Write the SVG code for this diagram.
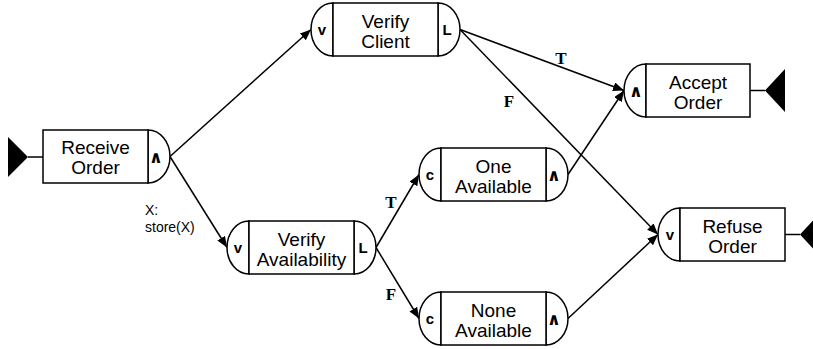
<svg xmlns="http://www.w3.org/2000/svg" width="813" height="349" viewBox="0 0 813 349">
<style>
.box{fill:#fff;stroke:#000;stroke-width:1.5}
.cap{fill:#fff;stroke:#000;stroke-width:1.5}
.lbl{font-family:"Liberation Sans",Arial,sans-serif;font-size:19px;fill:#000;text-anchor:middle}
.op{font-family:"Liberation Sans",Arial,sans-serif;font-size:15px;font-weight:bold;fill:#000;text-anchor:middle}
.and{font-family:"DejaVu Sans","Liberation Sans",sans-serif;font-size:17px;font-weight:bold;fill:#000;text-anchor:middle}
.tf{font-family:"Liberation Serif","Times New Roman",serif;font-size:17px;font-weight:bold;fill:#000;text-anchor:middle}
.note{font-family:"Liberation Sans",Arial,sans-serif;font-size:14px;fill:#000}
.edge{stroke:#000;stroke-width:1.5;fill:none;marker-end:url(#arr)}
.term{stroke:#000;stroke-width:1.5;fill:none}
</style>
<defs>
<marker id="arr" markerUnits="userSpaceOnUse" markerWidth="12" markerHeight="10" refX="11" refY="4.5" orient="auto">
<path d="M0,0 L11,4.5 L0,9 z" fill="#000"/>
</marker>
<path id="lcap" class="cap" d="M0,0 A22,26.5 0 0 0 0,53 Z"/>
<path id="rcap" class="cap" d="M105,0 A22,26.5 0 0 1 105,53 Z"/>
</defs>

<g id="connectors">
<line class="edge" x1="170" y1="156.5" x2="311" y2="29.5"/>
<line class="edge" x1="170" y1="156.5" x2="227" y2="247.5"/>
<line class="edge" x1="460" y1="29.5" x2="624" y2="90.5"/>
<line class="edge" x1="460" y1="29.5" x2="658" y2="234.5"/>
<line class="edge" x1="376" y1="247.5" x2="419" y2="174.5"/>
<line class="edge" x1="376" y1="247.5" x2="419" y2="318.5"/>
<line class="edge" x1="568" y1="174.5" x2="624" y2="90.5"/>
<line class="edge" x1="568" y1="318.5" x2="658" y2="234.5"/>
<text class="note" x="145" y="215">X:</text>
<text class="note" x="145" y="232">store(X)</text>
<text class="tf" x="561" y="64">T</text>
<text class="tf" x="509" y="107">F</text>
<text class="tf" x="391" y="208">T</text>
<text class="tf" x="391" y="300">F</text>
</g>

<g id="receive-order" transform="translate(43,130)">
<polygon points="-35,7 -15,27 -35,47" fill="#000"/>
<line class="term" x1="-15" y1="27" x2="0" y2="27"/>
<use href="#rcap"/>
<rect class="box" x="0" y="0" width="105" height="53"/>
<text class="lbl" x="52.5" y="24">Receive</text>
<text class="lbl" x="52.5" y="44">Order</text>
<text class="and" x="113" y="33">∧</text>
</g>

<g id="verify-client" transform="translate(333,3)">
<use href="#lcap"/>
<use href="#rcap"/>
<rect class="box" x="0" y="0" width="105" height="53"/>
<text class="lbl" x="52.5" y="25">Verify</text>
<text class="lbl" x="52.5" y="45">Client</text>
<text class="op" x="-11" y="32">v</text>
<text class="op" x="114" y="32">L</text>
</g>

<g id="accept-order" transform="translate(646,64)">
<use href="#lcap"/>
<rect class="box" x="0" y="0" width="104" height="53"/>
<line class="term" x1="104" y1="26.5" x2="119" y2="26.5"/>
<polygon points="119,26.5 139,5 139,48" fill="#000"/>
<text class="lbl" x="52" y="25">Accept</text>
<text class="lbl" x="52" y="45">Order</text>
<text class="and" x="-10" y="33">∧</text>
</g>

<g id="refuse-order" transform="translate(680,208)">
<use href="#lcap"/>
<rect class="box" x="0" y="0" width="105" height="53"/>
<line class="term" x1="105" y1="26.5" x2="120" y2="26.5"/>
<polygon points="120,26.5 140,5 140,48" fill="#000"/>
<text class="lbl" x="52.5" y="25">Refuse</text>
<text class="lbl" x="52.5" y="45">Order</text>
<text class="op" x="-10" y="32">v</text>
</g>

<g id="verify-availability" transform="translate(249,221)">
<use href="#lcap"/>
<use href="#rcap"/>
<rect class="box" x="0" y="0" width="105" height="53"/>
<text class="lbl" x="52.5" y="25">Verify</text>
<text class="lbl" x="52.5" y="45">Availability</text>
<text class="op" x="-11" y="32">v</text>
<text class="op" x="114" y="32">L</text>
</g>

<g id="one-available" transform="translate(441,148)">
<use href="#lcap"/>
<use href="#rcap"/>
<rect class="box" x="0" y="0" width="105" height="53"/>
<text class="lbl" x="52.5" y="25">One</text>
<text class="lbl" x="52.5" y="45">Available</text>
<text class="op" x="-11" y="32">c</text>
<text class="and" x="113" y="33">∧</text>
</g>

<g id="none-available" transform="translate(441,292)">
<use href="#lcap"/>
<use href="#rcap"/>
<rect class="box" x="0" y="0" width="105" height="53"/>
<text class="lbl" x="52.5" y="25">None</text>
<text class="lbl" x="52.5" y="45">Available</text>
<text class="op" x="-11" y="32">c</text>
<text class="and" x="113" y="33">∧</text>
</g>
</svg>
